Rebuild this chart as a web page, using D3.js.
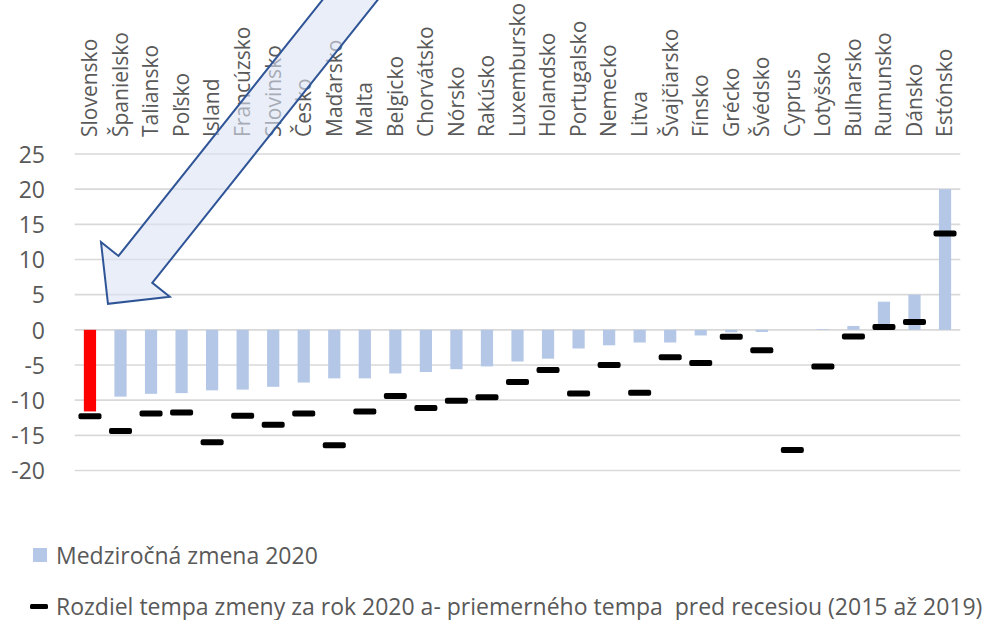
<!DOCTYPE html>
<html>
<head>
<meta charset="utf-8">
<script src="https://cdn.jsdelivr.net/npm/d3@7"></script>
<style>
  html, body { margin: 0; padding: 0; background: #fff; }
  svg { display: block; }
  text { font-family: "Open Sans", "Noto Sans", sans-serif; fill: #595959; }
</style>
</head>
<body>
<svg id="chart" width="996" height="620"></svg>
<script>
// Countries, ordered by the 2020 year-on-year change
const countries = [
  "Slovensko", "Španielsko", "Taliansko", "Poľsko", "Island", "Francúzsko",
  "Slovinsko", "Česko", "Maďarsko", "Malta", "Belgicko", "Chorvátsko",
  "Nórsko", "Rakúsko", "Luxembursko", "Holandsko", "Portugalsko", "Nemecko",
  "Litva", "Švajčiarsko", "Fínsko", "Grécko", "Švédsko", "Cyprus",
  "Lotyšsko", "Bulharsko", "Rumunsko", "Dánsko", "Estónsko"
];

// Medziročná zmena 2020 (bars)
const change2020 = [
  -11.6, -9.5, -9.1, -9.0, -8.6, -8.5,
  -8.1, -7.5, -6.9, -6.9, -6.2, -6.0,
  -5.6, -5.2, -4.5, -4.1, -2.65, -2.2,
  -1.8, -1.8, -0.8, -0.35, -0.3, 0.0,
  0.1, 0.55, 4.0, 5.0, 20.0
];

// Difference between the 2020 rate and the 2015–2019 average rate (markers)
const gapVsTrend = [
  -12.3, -14.4, -11.9, -11.75, -16.0, -12.2,
  -13.5, -11.9, -16.4, -11.6, -9.4, -11.1,
  -10.1, -9.6, -7.4, -5.7, -9.05, -5.0,
  -8.95, -3.9, -4.7, -1.0, -2.9, -17.1,
  -5.2, -0.95, 0.4, 1.1, 13.7
];

const yTicks = [-20, -15, -10, -5, 0, 5, 10, 15, 20, 25];
const highlightCountry = "Slovensko";

const legendLabels = [
  "Medziročná zmena 2020",
  "Rozdiel tempa zmeny za rok 2020 a- priemerného tempa  pred recesiou (2015 až 2019)"
];

const svg = d3.select("#chart");

const plot = { left: 74.7, right: 960.3, top: 154, bottom: 470.5 };

const x = d3.scaleBand()
  .domain(countries)
  .range([plot.left, plot.right])
  .paddingInner(0)
  .paddingOuter(0);

const y = d3.scaleLinear()
  .domain([-20, 25])
  .range([plot.bottom, plot.top]);

const cx = c => x(c) + x.bandwidth() / 2;

// Horizontal gridlines
svg.append("g")
  .selectAll("line")
  .data(yTicks)
  .join("line")
  .attr("x1", plot.left)
  .attr("x2", plot.right)
  .attr("y1", d => y(d))
  .attr("y2", d => y(d))
  .attr("stroke", "#d9d9d9")
  .attr("stroke-width", 1.6);

// Y axis labels
const yAxis = d3.axisLeft(y).tickValues(yTicks).tickSize(0).tickPadding(0)
  .tickFormat(d => (d < 0 ? "-" + Math.abs(d) : String(d)));
const yAxisG = svg.append("g").attr("transform", "translate(45,0)").call(yAxis);
yAxisG.select(".domain").remove();
yAxisG.selectAll("text")
  .attr("fill", "#595959")
  .style("font-size", "23px")
  .style("font-family", "'Open Sans', sans-serif")
  .attr("dy", "0.36em");

// Category labels, rotated, above the plot
svg.append("g")
  .selectAll("text")
  .data(countries)
  .join("text")
  .attr("transform", d => `translate(${cx(d)},137) rotate(-90)`)
  .attr("text-anchor", "start")
  .attr("dy", "0.35em")
  .style("font-size", "21px")
  .text(d => d);

// Bars: year-on-year change 2020
const barW = x.bandwidth() * 0.4;
svg.append("g")
  .selectAll("rect")
  .data(countries.map((c, i) => ({ c, v: change2020[i] })))
  .join("rect")
  .attr("x", d => cx(d.c) - barW / 2)
  .attr("width", barW)
  .attr("y", d => y(Math.max(0, d.v)))
  .attr("height", d => Math.abs(y(d.v) - y(0)))
  .attr("fill", d => (d.c === highlightCountry ? "#ff0000" : "#b4c7e7"));

// Markers: gap vs. pre-recession average
const mW = 23, mH = 6;
svg.append("g")
  .selectAll("rect")
  .data(countries.map((c, i) => ({ c, v: gapVsTrend[i] })))
  .join("rect")
  .attr("x", d => cx(d.c) - mW / 2)
  .attr("y", d => y(d.v) - mH / 2)
  .attr("width", mW)
  .attr("height", mH)
  .attr("rx", 2)
  .attr("fill", "#000");

// Legend
const leg = svg.append("g");
leg.append("rect")
  .attr("x", 33).attr("y", 548).attr("width", 14).attr("height", 14)
  .attr("fill", "#b4c7e7");
leg.append("text")
  .attr("x", 56).attr("y", 564)
  .style("font-size", "23px")
  .text(legendLabels[0]);
leg.append("rect")
  .attr("x", 30).attr("y", 604).attr("width", 18).attr("height", 5)
  .attr("rx", 1.5)
  .attr("fill", "#000");
leg.append("text")
  .attr("x", 56).attr("y", 615)
  .style("font-size", "23px")
  .style("white-space", "pre")
  .attr("xml:space", "preserve")
  .text(legendLabels[1]);

// Block arrow pointing at the highlighted bar
const tip = [cx(highlightCountry) + 18, y(3.7)];
const dir = [-0.623, 0.782];
const nrm = [dir[1], -dir[0]];
const headLen = 44, headHalf = 44, shaftHalf = 21.6, shaftLen = 380;
const base = [tip[0] - headLen * dir[0], tip[1] - headLen * dir[1]];
const tail = [base[0] - shaftLen * dir[0], base[1] - shaftLen * dir[1]];
const pt = (p, k) => [p[0] + k * nrm[0], p[1] + k * nrm[1]];
const arrowPts = [
  tip,
  pt(base, -headHalf),
  pt(base, -shaftHalf),
  pt(tail, -shaftHalf),
  pt(tail, shaftHalf),
  pt(base, shaftHalf),
  pt(base, headHalf)
];
svg.append("path")
  .attr("d", d3.line()(arrowPts) + "Z")
  .attr("fill", "#dae3f3")
  .attr("fill-opacity", 0.6)
  .attr("stroke", "#2f5597")
  .attr("stroke-width", 2)
  .attr("stroke-linejoin", "miter");
</script>
</body>
</html>
